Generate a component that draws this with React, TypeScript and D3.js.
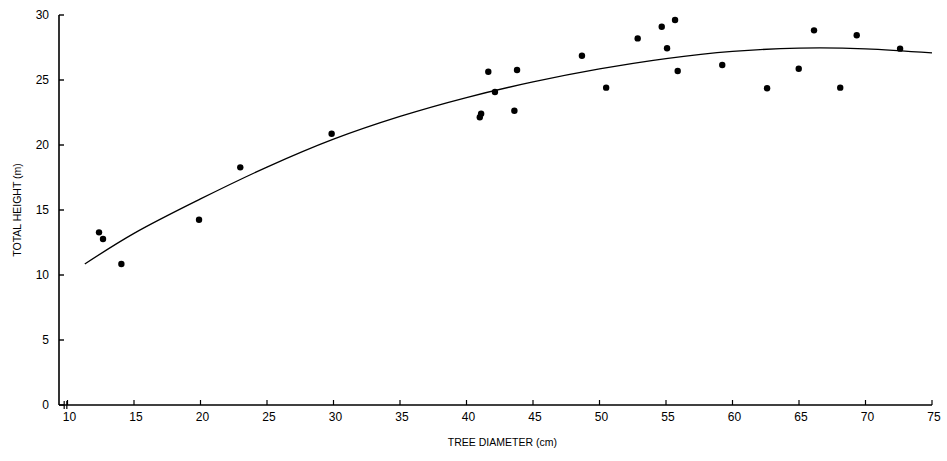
import React from "react";
import * as d3 from "d3";

const diameters = [12.37, 12.67, 14.05, 19.89, 22.99, 29.86, 41.0, 41.1, 41.64, 42.14, 43.6, 43.8, 48.68, 50.5, 52.87, 54.68, 55.08, 55.68, 55.88, 59.23, 62.6, 64.98, 66.13, 68.1, 69.34, 72.6];
const heights = [13.28, 12.77, 10.85, 14.25, 18.28, 20.87, 22.13, 22.4, 25.64, 24.08, 22.64, 25.77, 26.87, 24.41, 28.2, 29.1, 27.44, 29.62, 25.69, 26.15, 24.36, 25.87, 28.82, 24.41, 28.44, 27.41];

const curveX = [11.3, 15, 20, 25, 30, 35, 40, 45, 50, 55, 60, 65, 70, 75];
const curveY = [10.85, 13.2, 15.85, 18.3, 20.45, 22.2, 23.65, 24.85, 25.85, 26.65, 27.2, 27.45, 27.4, 27.08];

const xTicks = [10, 15, 20, 25, 30, 35, 40, 45, 50, 55, 60, 65, 70, 75];
const yTicks = [0, 5, 10, 15, 20, 25, 30];

const W = 947;
const H = 461;

export default function App() {
  const x = d3.scaleLinear().domain([10, 75]).range([67.5, 932]);
  const y = d3.scaleLinear().domain([0, 30]).range([405, 15]);
  const axisX0 = 59;
  const y0 = y(0);

  const line = d3
    .line<number>()
    .x((_, i) => x(curveX[i]))
    .y((d) => y(d))
    .curve(d3.curveCatmullRom);

  const font = "'Liberation Sans', 'DejaVu Sans', sans-serif";

  return (
    <svg
      width={W}
      height={H}
      style={{ position: "absolute", left: 0, top: 0, background: "#fff" }}
    >
      {/* y axis */}
      <line x1={axisX0} x2={axisX0} y1={y(30)} y2={y0} stroke="#000" strokeWidth={1.6} />
      {yTicks.map((t) => (
        <g key={"y" + t}>
          <line x1={axisX0} x2={axisX0 + 5} y1={y(t)} y2={y(t)} stroke="#000" strokeWidth={1.4} />
          <text
            x={49}
            y={y(t)}
            dy="0.35em"
            textAnchor="end"
            fontFamily={font}
            fontSize={12}
            fill="#000"
          >
            {t}
          </text>
        </g>
      ))}
      {/* x axis */}
      <line x1={axisX0} x2={x(75)} y1={y0} y2={y0} stroke="#000" strokeWidth={1.4} />
      {xTicks.map((t) => (
        <g key={"x" + t}>
          <line x1={x(t)} x2={x(t)} y1={y0} y2={y0 - 5} stroke="#000" strokeWidth={1.2} />
          <text
            x={x(t) + 2}
            y={y0 + 16}
            textAnchor="middle"
            fontFamily={font}
            fontSize={12}
            fill="#000"
          >
            {t}
          </text>
        </g>
      ))}
      {/* axis break marks */}
      <line x1={x(9.75)} x2={x(9.75)} y1={y0 - 4} y2={y0 + 4} stroke="#000" strokeWidth={1.2} />
      <line x1={x(9.95)} x2={x(9.95)} y1={y0 - 4} y2={y0 + 4} stroke="#000" strokeWidth={1.2} />
      {/* fitted curve */}
      <path d={line(curveY) || ""} fill="none" stroke="#000" strokeWidth={1.3} />
      {/* points */}
      {diameters.map((d, i) => (
        <circle key={"p" + i} cx={x(d)} cy={y(heights[i])} r={3.2} fill="#000" />
      ))}
      {/* axis titles */}
      <text
        x={x(42.7)}
        y={y0 + 41}
        textAnchor="middle"
        fontFamily={font}
        fontSize={10.5}
        fill="#000"
      >
        TREE DIAMETER (cm)
      </text>
      <text
        transform={`translate(21, ${y(15)}) rotate(-90)`}
        textAnchor="middle"
        fontFamily={font}
        fontSize={10.5}
        fill="#000"
      >
        TOTAL HEIGHT (m)
      </text>
    </svg>
  );
}
